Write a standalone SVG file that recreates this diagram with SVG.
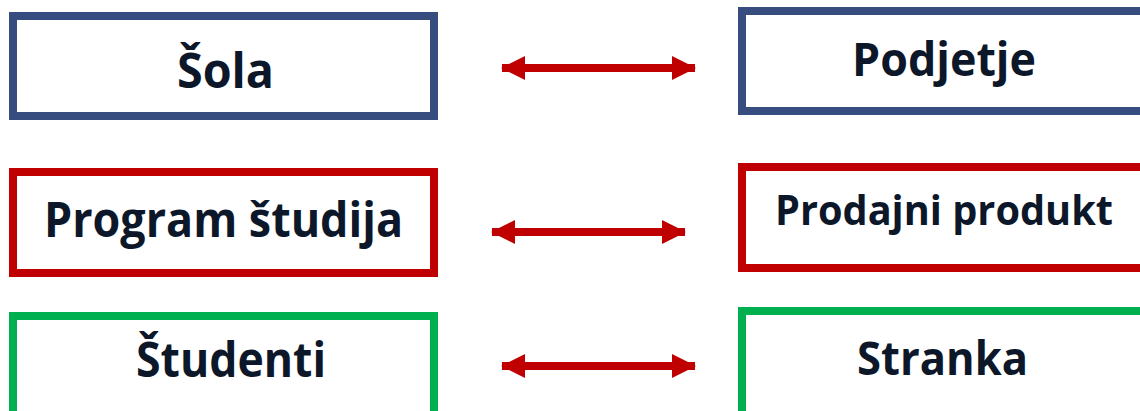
<svg xmlns="http://www.w3.org/2000/svg" width="1140" height="411" viewBox="0 0 1140 411">
  <style>
    .box { fill: #ffffff; stroke-width: 8; }
    .blue { stroke: #374D7F; }
    .red { stroke: #C00000; }
    .green { stroke: #00B050; }
    .label { font-family: "Open Sans", "Liberation Sans", sans-serif; font-weight: 700; fill: #0C1729; }
    .link { stroke: #C00000; stroke-width: 8; fill: none; }
  </style>
  <defs>
    <marker id="head" markerUnits="userSpaceOnUse" markerWidth="24" markerHeight="24" viewBox="0 0 24 24" refX="23" refY="12" orient="auto-start-reverse">
      <path d="M0,0 L24,12 L0,24 Z" fill="#C00000"/>
    </marker>
  </defs>

  <rect width="1140" height="411" fill="#ffffff"/>

  <!-- left column -->
  <g id="sola">
    <rect class="box blue" x="13" y="16" width="421" height="100"/>
    <text class="label" x="177" y="88" font-size="49" textLength="97" lengthAdjust="spacingAndGlyphs">Šola</text>
  </g>
  <g id="program-studija">
    <rect class="box red" x="13" y="172" width="421" height="101"/>
    <text class="label" x="44" y="237" font-size="48" textLength="359" lengthAdjust="spacingAndGlyphs">Program študija</text>
  </g>
  <g id="studenti">
    <rect class="box green" x="13" y="316" width="421" height="110"/>
    <text class="label" x="136" y="377" font-size="48" textLength="190" lengthAdjust="spacingAndGlyphs">Študenti</text>
  </g>

  <!-- right column -->
  <g id="podjetje">
    <rect class="box blue" x="742" y="11" width="410" height="100"/>
    <text class="label" x="852" y="76" font-size="47" textLength="184" lengthAdjust="spacingAndGlyphs">Podjetje</text>
  </g>
  <g id="prodajni-produkt">
    <rect class="box red" x="742" y="167" width="410" height="101"/>
    <text class="label" x="775" y="225" font-size="41" textLength="338" lengthAdjust="spacingAndGlyphs">Prodajni produkt</text>
  </g>
  <g id="stranka">
    <rect class="box green" x="742" y="311" width="410" height="110"/>
    <text class="label" x="857" y="375" font-size="47" textLength="171" lengthAdjust="spacingAndGlyphs">Stranka</text>
  </g>

  <!-- two-way connectors -->
  <g id="connectors">
    <line class="link" x1="502" y1="68" x2="695" y2="68" marker-start="url(#head)" marker-end="url(#head)"/>
    <line class="link" x1="492" y1="232" x2="685" y2="232" marker-start="url(#head)" marker-end="url(#head)"/>
    <line class="link" x1="502" y1="366" x2="695" y2="366" marker-start="url(#head)" marker-end="url(#head)"/>
  </g>
</svg>
